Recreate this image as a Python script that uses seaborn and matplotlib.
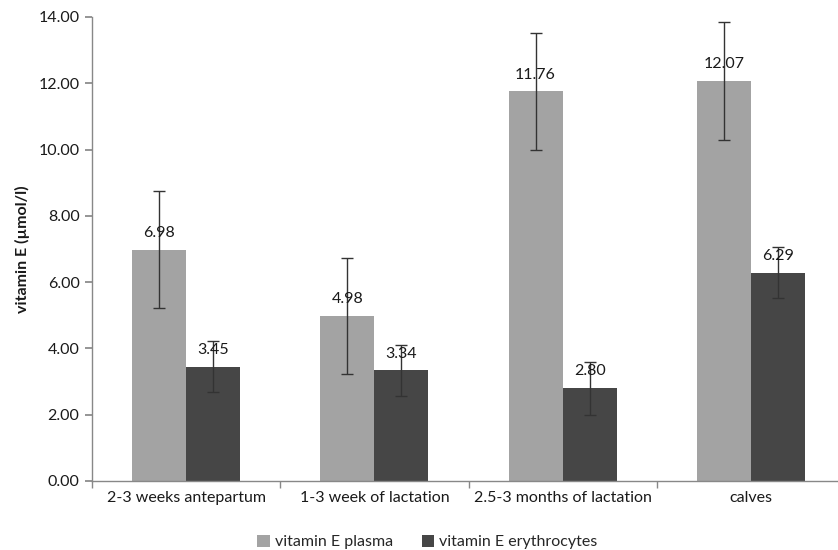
import numpy as np
import pandas as pd
import matplotlib
matplotlib.use("Agg")
import matplotlib.pyplot as plt
import seaborn as sns

categories = ["2-3 weeks antepartum", "1-3 week of lactation",
              "2.5-3 months of lactation", "calves"]
series = ["vitamin E plasma", "vitamin E erythrocytes"]
plasma_mean = [6.98, 4.98, 11.76, 12.07]
plasma_sd = [1.76, 1.76, 1.77, 1.77]
ery_mean = [3.45, 3.34, 2.80, 6.29]
ery_sd = [0.77, 0.77, 0.80, 0.78]
yticks = [0, 2, 4, 6, 8, 10, 12, 14]

colors = ["#a3a3a3", "#464646"]
FS = 11.5

sns.set_theme(style="white")
plt.rcParams["font.family"] = ["Lato", "DejaVu Sans"]

df = pd.DataFrame({
    "category": categories * 2,
    "series": [series[0]] * 4 + [series[1]] * 4,
    "value": plasma_mean + ery_mean,
    "sd": plasma_sd + ery_sd,
})

fig = plt.figure(figsize=(8.38, 5.5), dpi=100)
ax = fig.add_axes([92 / 838, 69 / 550, 753 / 838, 464 / 550])

sns.barplot(data=df, x="category", y="value", hue="series", order=categories,
            hue_order=series, palette=colors, width=0.575, errorbar=None,
            saturation=1, ax=ax, legend=True, edgecolor="none")

# error bars and value labels from the drawn bars
for cont, s in zip(ax.containers, series):
    sub = df[df["series"] == s].set_index("category").loc[categories]
    xs = [p.get_x() + p.get_width() / 2 for p in cont.patches]
    ax.errorbar(xs, sub["value"], yerr=sub["sd"], fmt="none",
                ecolor="#333333", elinewidth=1.0, capsize=4, capthick=1.0, zorder=3)
    for x, v in zip(xs, sub["value"]):
        ax.annotate(f"{v:.2f}", (x, v), xytext=(0, 7), textcoords="offset points",
                    ha="center", va="bottom", fontsize=FS, color="#1a1a1a", zorder=4)

ax.set_ylim(0, 14)
ax.set_yticks(yticks)
ax.set_yticklabels([f"{t:.2f}" for t in yticks], fontsize=FS, color="#1a1a1a")
ax.set_xlim(-0.5, 3.5)
ax.set_xticks(range(len(categories)))
ax.set_xticklabels(categories, fontsize=FS, color="#1a1a1a")
ax.tick_params(axis="x", length=0, pad=7)
ax.tick_params(axis="y", length=5, color="#888888", left=True, pad=4)
# boundary ticks between categories
ax.set_xticks([-0.5, 0.5, 1.5, 2.5, 3.5], minor=True)
ax.tick_params(axis="x", which="minor", length=5, color="#888888", bottom=True)

ax.set_xlabel("")
ax.set_ylabel("vitamin E (µmol/l)", fontsize=FS, fontweight="bold", color="#1a1a1a",
              labelpad=6)

for side in ["top", "right"]:
    ax.spines[side].set_visible(False)
for side in ["left", "bottom"]:
    ax.spines[side].set_color("#888888")
    ax.spines[side].set_linewidth(1.0)

handles, labels = ax.get_legend_handles_labels()
ax.get_legend().remove()
fig.legend(handles, labels, loc="lower center", bbox_to_anchor=(0.51, -0.025),
           ncol=2, frameon=False, fontsize=FS, handlelength=0.8, handleheight=0.8,
           handletextpad=0.3, columnspacing=1.8)

fig.savefig("out.png", dpi=100)
